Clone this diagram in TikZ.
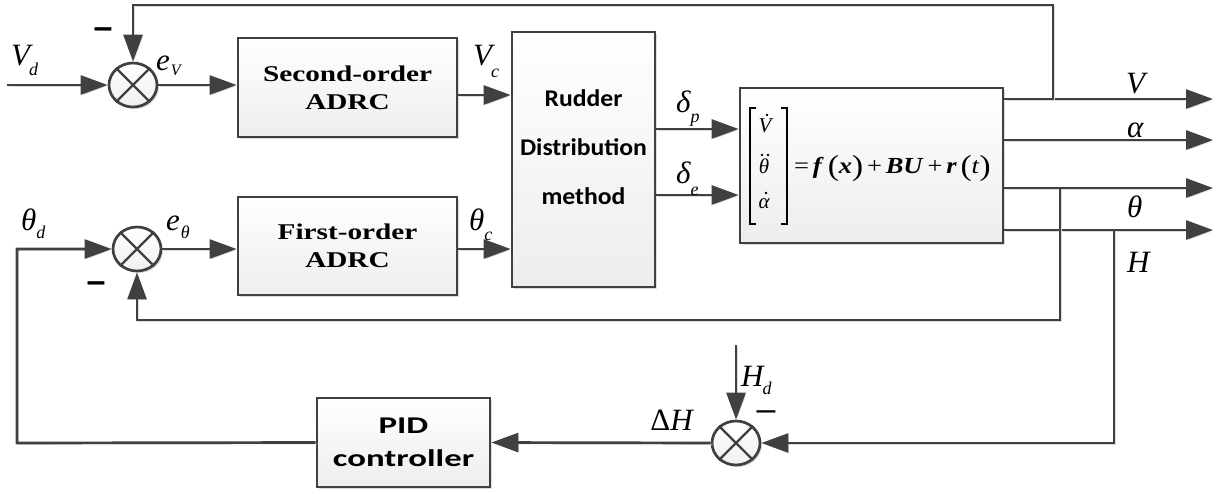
\documentclass[tikz,border=0pt]{standalone}
\usepackage{fontspec}
\setmainfont{Liberation Serif}
\newfontfamily\boxserif[FakeStretch=1.3]{Liberation Serif}
\newfontfamily\eqserif[FakeStretch=1.15]{Liberation Serif}
\newfontfamily\calib[FakeStretch=1.07]{Carlito}
\newfontfamily\calibw[FakeStretch=1.45]{Carlito}
\newfontfamily\lsans{Liberation Sans}
\usetikzlibrary{arrows.meta,shapes.geometric,shadows,calc}

\definecolor{wire}{HTML}{404040}
\definecolor{shd}{HTML}{DCDCDC}

% italic subscript for signal names, dropped below the baseline
\newcommand\lsub[2][9pt]{\raisebox{-#1}{\fontsize{18}{18}\selectfont\itshape #2}}
\newcommand\bi[1]{\textbf{\textit{#1}}}
\newcommand\pp[1]{\raisebox{-2pt}{\fontsize{29}{29}\selectfont #1}}

\tikzset{
  wire/.style={draw=wire, line width=2.7pt,
    preaction={draw=shd, transform canvas={shift={(1.6pt,-1.6pt)}}}},
  sig/.style={wire, -{Triangle[length=27pt,width=19pt]}},
  blk/.style={draw=wire, line width=2.7pt, top color=white, bottom color=gray!14,
    drop shadow={shadow xshift=2.2pt, shadow yshift=-2.2pt, fill=shd, opacity=1},
    inner sep=0pt, align=center},
  sumj/.style={ellipse, draw=wire, line width=2.7pt, minimum width=48pt,
    minimum height=44pt, inner sep=0pt, top color=white, bottom color=gray!12,
    drop shadow={shadow xshift=2pt, shadow yshift=-2pt, fill=shd, opacity=1}},
  lab/.style={font=\fontsize{31}{33}\selectfont\itshape, inner sep=0pt, anchor=base west},
  serifbox/.style={font=\fontsize{22.5}{28}\selectfont\boxserif\bfseries},
  sansbox/.style={font=\fontsize{24}{49}\selectfont\calib\bfseries, align=center},
  minus/.style={font=\fontsize{34}{34}\selectfont\lsans\bfseries, inner sep=0pt},
  entry/.style={font=\fontsize{21}{21}\selectfont\itshape, inner sep=0pt, anchor=base},
  brk/.style={draw=black, line width=1.2pt},
}

\begin{document}
\begin{tikzpicture}[x=1pt,y=-1pt]
\useasboundingbox (0,0) rectangle (1230,493);

% ---- blocks ----
\node[blk, serifbox, minimum width=219pt, minimum height=99pt] (so) at (347.5,87.5) {Second-order\\ADRC};
\node[blk, serifbox, minimum width=219pt, minimum height=98pt] (fo) at (347.5,246) {First-order\\ADRC};
\node[blk, minimum width=143pt, minimum height=255pt] (rud) at (583.5,159.5) {};
\node[sansbox] (rudt) at (583.5,147) {Rudder\\Distribution\\method};
\node[blk, sansbox, font=\fontsize{24}{33}\selectfont\calibw\bfseries, minimum width=173pt, minimum height=89pt] (pid) at (403.5,442.5) {PID\\controller};
\node[blk, minimum width=263pt, minimum height=155pt] (plant) at (871.5,165.5) {};

% ---- summing junctions ----
\node[sumj] (s1) at (133,85) {};
\node[sumj] (s2) at (137,249) {};
\node[sumj] (s3) at (736,443) {};
\foreach \s in {s1,s2,s3}
  \draw[draw=wire, line width=2.4pt] (\s.45) -- (\s.225) (\s.135) -- (\s.315);

% ---- plant equation ----
\node[entry] (m1) at (765,132) {V};
\node[entry] (m2) at (764,173) {θ};
\node[entry] (m3) at (764,208) {α};
\fill (767,115) circle (1.4pt);
\fill (762,155) circle (1.4pt) (768,155) circle (1.4pt);
\fill (766,193) circle (1.4pt);
\draw[brk] (756,108) -- (750,108) -- (750,224) -- (756,224);
\draw[brk] (781,108) -- (787,108) -- (787,224) -- (781,224);
\node[inner sep=0pt, anchor=base west, font=\fontsize{23}{23}\selectfont\eqserif] (eq) at (794,173)
  {=\,\bi{f}\,\pp{(}\bi{x}\pp{)}\,+\,\bi{BU}\,+\,\bi{r}\,\pp{(}\textit{t}\pp{)}};

% ---- reference points ----
\coordinate (vin) at (7,85);
\coordinate (yVc) at (0,95);
\coordinate (yTc) at (0,249);
\coordinate (yDp) at (0,129);
\coordinate (yDe) at (0,195);
\coordinate (yTop) at (0,5);
\coordinate (yFb) at (0,320);
\coordinate (oV) at (1213,99);
\coordinate (oA) at (1213,140);
\coordinate (oT) at (1213,188);
\coordinate (oH) at (1213,230);
\coordinate (jV) at (1053,99);
\coordinate (jT) at (1060,188);
\coordinate (jH) at (1114,230);
\coordinate (hd) at (736,345);
\coordinate (cL) at (17,443);

% ---- forward path ----
\draw[sig] (vin) -- (s1.west);
\draw[sig] (s1.east) -- (s1.east -| so.west);
\draw[sig] (so.east |- yVc) -- (rud.west |- yVc);
\draw[sig] (s2.east) -- (s2.east -| fo.west);
\draw[sig] (fo.east |- yTc) -- (rud.west |- yTc);
\draw[sig] (rud.east |- yDp) -- (plant.west |- yDp);
\draw[sig] (rud.east |- yDe) -- (plant.west |- yDe);

% ---- outputs ----
\draw[sig] (plant.east |- oV) -- (oV);
\draw[sig] (plant.east |- oA) -- (oA);
\draw[sig] (plant.east |- oT) -- (oT);
\draw[sig] (plant.east |- oH) -- (oH);

% ---- feedback loops ----
\draw[sig] (jV) |- (s1.north |- yTop) -- (s1.north);
\draw[sig] (jT) |- (s2.south |- yFb) -- (s2.south);
\draw[sig] (jH) |- (s3.east);
\draw[sig] (hd) -- (s3.north);
\draw[sig] (s3.west) -- (pid.east);
\draw[sig] (pid.west) -- (cL) |- (s2.west);

% ---- labels ----
\node[lab] (lVd) at (11,65) {V\kern-1pt\lsub[10pt]{d}};
\node[lab] (leV) at (156,70) {e\kern1pt\lsub[5pt]{\fontsize{16}{16}\selectfont V}};
\node[lab] (lVc) at (473,65) {V\kern-1pt\lsub[12pt]{c}};
\node[lab] (lTd) at (21,230) {θ\lsub[8pt]{d}};
\node[lab] (leT) at (166,230) {e\kern1pt\lsub[8pt]{θ}};
\node[lab] (lTc) at (469,230) {θ\lsub[10pt]{c}};
\node[lab] (lDp) at (676,112) {δ\lsub[10pt]{p}};
\node[lab] (lDe) at (676,183) {δ\lsub[12pt]{e}};
\node[lab] (lV) at (1126,93) {V};
\node[lab] (lA) at (1127,137) {α};
\node[lab] (lT) at (1127,217) {θ};
\node[lab] (lH) at (1127,272) {H};
\node[lab] (lHd) at (741,386) {H\kern-1pt\lsub[8pt]{d}};
\node[lab, anchor=base east] (ldH) at (693,430) {\textup{Δ}H};
\node[minus] (n1) at (103,33) {–};
\node[minus] (n2) at (96,287) {–};
\node[minus, font=\fontsize{34}{34}\selectfont\lsans] (n3) at (766,416) {–};
\end{tikzpicture}
\end{document}
